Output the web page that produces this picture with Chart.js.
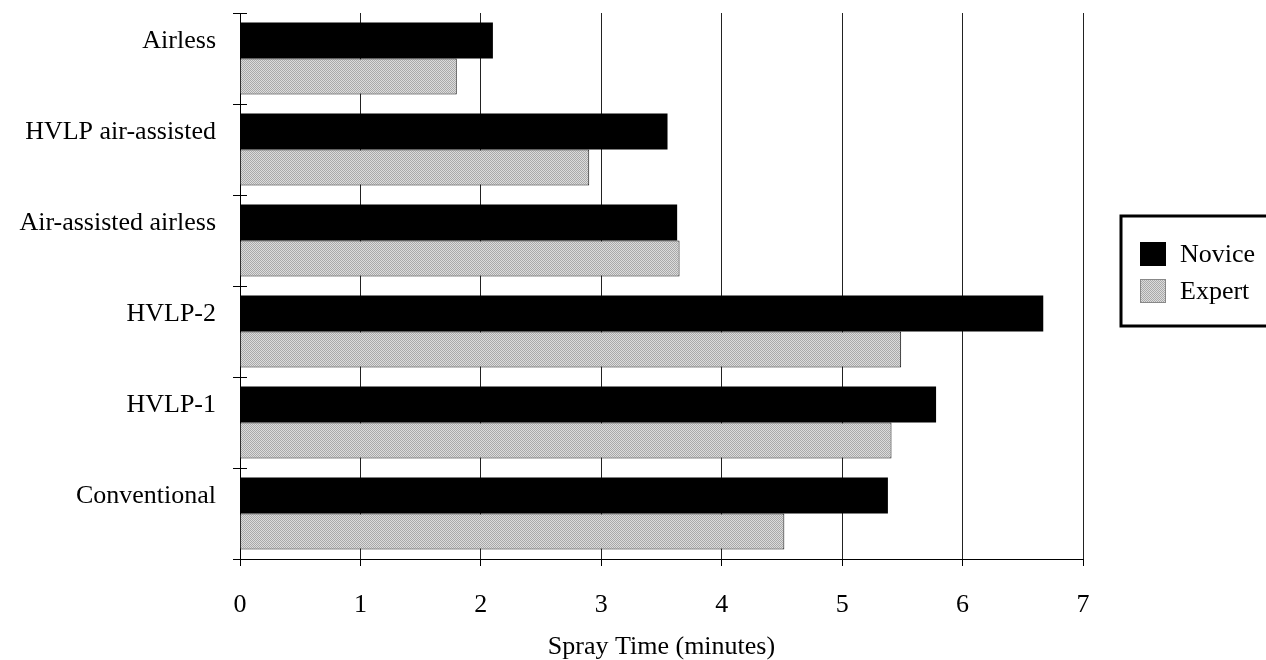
<!DOCTYPE html>
<html lang="en">

<head>
    <meta charset="UTF-8">
    <title>Spray Time</title>
    <script src="https://cdn.jsdelivr.net/npm/chart.js"></script>
    <style>
        html, body { margin: 0; padding: 0; background: #fff; }
        #wrap { width: 1266px; height: 660px; }
    </style>
</head>

<body>
    <div id="wrap"><canvas id="spray-chart" width="1266" height="660"></canvas></div>

    <script>
        // Spray guns, top to bottom
        var guns = ['Airless', 'HVLP air-assisted', 'Air-assisted airless', 'HVLP-2', 'HVLP-1', 'Conventional'];
        // Spray time in minutes
        var novice = [2.10, 3.55, 3.63, 6.67, 5.78, 5.38];
        var expert = [1.80, 2.90, 3.65, 5.49, 5.41, 4.52];
        var xTicks = [0, 1, 2, 3, 4, 5, 6, 7];

        var serif = '"Liberation Serif", "Times New Roman", serif';

        // light grey dithered fill for the expert bars
        function greyPattern() {
            var c = document.createElement('canvas');
            c.width = 4; c.height = 4;
            var g = c.getContext('2d');
            g.fillStyle = '#dcdcdc';
            g.fillRect(0, 0, 4, 4);
            g.fillStyle = '#a9a9a9';
            for (var y = 0; y < 4; y++) {
                for (var x = 0; x < 4; x++) {
                    if ((x + y) % 2 === 0) g.fillRect(x, y, 1, 1);
                }
            }
            return g.createPattern(c, 'repeat');
        }
        var expertFill = greyPattern();

        // small marks on the inside of the y axis between categories
        var crossTicks = {
            id: 'crossTicks',
            afterDatasetsDraw: function (chart) {
                var ctx = chart.ctx, y = chart.scales.y, left = chart.chartArea.left;
                ctx.save();
                ctx.strokeStyle = '#000';
                ctx.lineWidth = 1;
                for (var i = 0; i <= guns.length; i++) {
                    var py = Math.round(y.getPixelForValue(i - 0.5)) + 0.5;
                    ctx.beginPath();
                    ctx.moveTo(left, py);
                    ctx.lineTo(left + 7, py);
                    ctx.stroke();
                }
                ctx.restore();
            }
        };

        // boxed legend to the right of the plot
        var boxLegend = {
            id: 'boxLegend',
            afterDraw: function (chart) {
                var ctx = chart.ctx;
                var bx = 1121, by = 216, bw = 150, bh = 110;
                ctx.save();
                ctx.lineWidth = 3;
                ctx.strokeStyle = '#000';
                ctx.strokeRect(bx, by, bw, bh);
                ctx.font = '26px ' + serif;
                ctx.textBaseline = 'middle';
                chart.data.datasets.forEach(function (ds, i) {
                    var cy = by + 38 + i * 37;
                    ctx.fillStyle = ds.backgroundColor;
                    ctx.fillRect(bx + 19, cy - 12, 26, 24);
                    if (ds.borderWidth) {
                        ctx.lineWidth = 1;
                        ctx.strokeStyle = '#888';
                        ctx.strokeRect(bx + 19.5, cy - 11.5, 25, 23);
                    }
                    ctx.fillStyle = '#000';
                    ctx.fillText(ds.label, bx + 59, cy + 1);
                });
                ctx.restore();
            }
        };

        var ctx = document.getElementById('spray-chart').getContext('2d');
        var chart = new Chart(ctx, {
            type: 'bar',
            data: {
                labels: guns,
                datasets: [{
                    label: 'Novice',
                    data: novice,
                    backgroundColor: '#000',
                    borderWidth: 0
                }, {
                    label: 'Expert',
                    data: expert,
                    backgroundColor: expertFill,
                    borderColor: '#111',
                    borderWidth: 1
                }]
            },
            options: {
                indexAxis: 'y',
                responsive: false,
                animation: false,
                devicePixelRatio: 1,
                layout: { padding: { top: 13, right: 183, bottom: 0, left: 0 } },
                datasets: { bar: { categoryPercentage: 0.79, barPercentage: 1.0 } },
                plugins: {
                    legend: { display: false },
                    tooltip: { enabled: false }
                },
                scales: {
                    x: {
                        min: 0,
                        max: 7,
                        afterBuildTicks: function (scale) {
                            scale.ticks = xTicks.map(function (v) { return { value: v }; });
                        },
                        afterFit: function (scale) { scale.height = 101; },
                        grid: {
                            color: '#222',
                            lineWidth: 1,
                            tickLength: 7,
                            tickColor: '#000'
                        },
                        border: { display: true, color: '#000', width: 1 },
                        ticks: {
                            color: '#000',
                            padding: 26,
                            maxRotation: 0,
                            font: { family: serif, size: 26, lineHeight: 1 }
                        },
                        title: {
                            display: true,
                            text: 'Spray Time (minutes)',
                            color: '#000',
                            padding: { top: 15, bottom: 0 },
                            font: { family: serif, size: 26, lineHeight: 1 }
                        }
                    },
                    y: {
                        afterFit: function (scale) {
                            scale.width = 240;
                            scale.paddingTop = 0;
                            scale.paddingBottom = 0;
                        },
                        grid: {
                            drawOnChartArea: false,
                            tickLength: 7,
                            tickColor: '#000',
                            offset: true
                        },
                        border: { display: true, color: '#000', width: 1 },
                        ticks: {
                            color: '#000',
                            padding: 17,
                            labelOffset: -17,
                            font: { family: serif, size: 26, lineHeight: 1 }
                        }
                    }
                }
            },
            plugins: [crossTicks, boxLegend]
        });
    </script>
</body>

</html>
